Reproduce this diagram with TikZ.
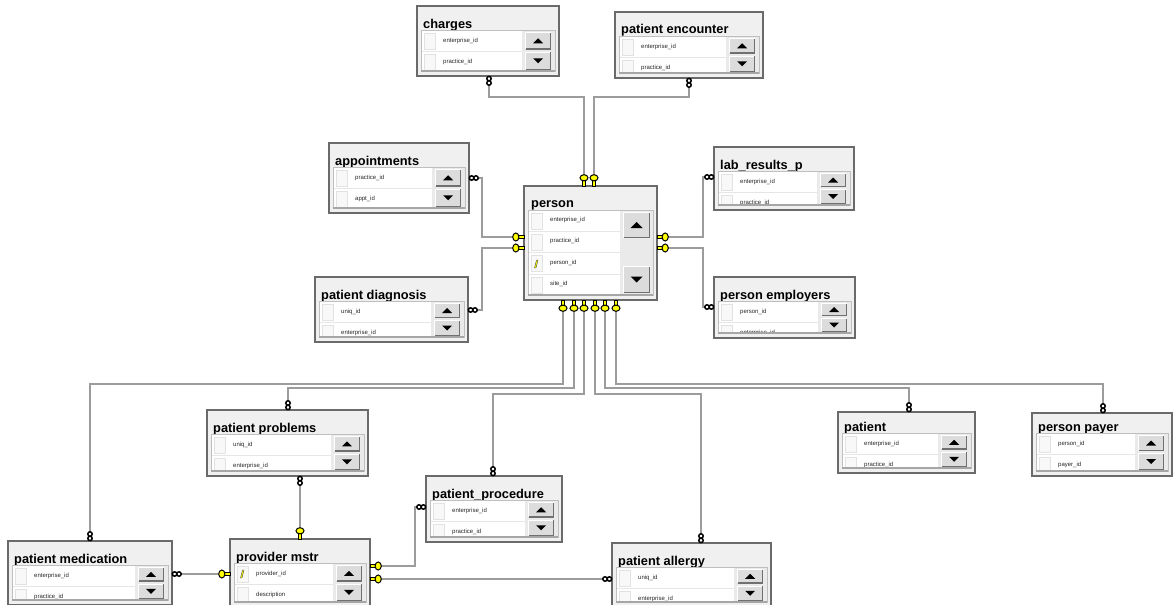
\documentclass[tikz,border=0pt]{standalone}
\usepackage{fontspec}
\setmainfont{Liberation Sans}
\usetikzlibrary{calc}
\definecolor{connc}{HTML}{9C9C9C}
\definecolor{tblborder}{HTML}{6A6A6A}
\definecolor{tblfill}{HTML}{F0F0F0}
\definecolor{rowsepc}{HTML}{E6E6E6}
\definecolor{cellc}{HTML}{E2E2E2}
\definecolor{cellfill}{HTML}{F8F8F8}
\definecolor{btnface}{HTML}{DCDCDC}
\definecolor{btndark}{HTML}{707070}
\definecolor{trackc}{HTML}{EAEAEA}
\definecolor{keyyellow}{HTML}{FFFF00}

\tikzset{
 tablebox/.style={draw=tblborder, fill=tblfill, line width=1.6pt, rectangle, inner sep=0pt, outer sep=0pt, anchor=north west},
 titletext/.style={font=\bfseries\fontsize{12.8}{14}\selectfont, anchor=base west, inner sep=0pt},
 rowtext/.style={font=\fontsize{6}{7}\selectfont, text=black!85, anchor=west, inner sep=0pt},
 conn/.style={draw=connc, line width=2pt},
 keymark/.pic={
   \filldraw[fill=keyyellow, draw=black, line width=1pt] (0,-1.7) -- (5.5,-1.7) -- (5.5,1.7) -- (0,1.7) -- cycle;
   \filldraw[fill=keyyellow, draw=black, line width=1pt] (8.2,0) ellipse (3.1 and 4);
 },
 manymark/.pic={
   \draw[black, fill=white, line width=1.5pt] (2.6,0) circle (2.2) (7.0,0) circle (2.2);
 },
}

\def\rs{0}

\newcommand\scrbtn[6]{%
 \pgfmathsetmacro\sbcx{(#1+#3)/2}\pgfmathsetmacro\sbcy{(#2+#4)/2}%
 \pgfmathsetmacro\sbxa{\sbcx-#6}\pgfmathsetmacro\sbxb{\sbcx+#6}%
 \pgfmathsetmacro\sbyb{\sbcy+(#5)*#6/2}\pgfmathsetmacro\sbya{\sbcy-(#5)*#6/2}%
 \fill[btnface] (#1,#2) rectangle (#3,#4);
 \draw[white,line width=1pt] (#1+0.5,#4-0.5) -- (#1+0.5,#2+0.5) -- (#3-0.5,#2+0.5);
 \draw[btndark,line width=1.3pt] (#1+0.5,#4-0.6) -- (#3-0.6,#4-0.6) -- (#3-0.6,#2+0.5);
 \fill[black] (\sbxa,\sbyb) -- (\sbxb,\sbyb) -- (\sbcx,\sbya) -- cycle;
}

\newcommand\rowkey[2]{%
 \filldraw[fill=keyyellow, draw=black!70, line width=0.4pt] (#1-1.5,#2+4) -- (#1+0.5,#2-4) -- (#1+2,#2-4) -- (#1,#2+4) -- cycle;
}

\newcommand\erdtable[8]{%
 \pgfmathsetmacro\tw{#4-#2}\pgfmathsetmacro\th{#5-#3}%
 \pgfmathsetmacro\iy{#3+\rs}%
 \node[tablebox, minimum width=\tw pt, minimum height=\th pt] (#1) at (#2,#3) {};
 \node[titletext] (#1-title) at (#2+6,\iy+22) {#6};
 \pgfmathsetmacro\yt{\iy+24}\pgfmathsetmacro\yb{#5-5}\pgfmathsetmacro\ym{(\yt+\yb)/2}%
 \pgfmathsetmacro\ua{\yt+2}\pgfmathsetmacro\ub{\ym-1}\pgfmathsetmacro\da{\ym+1}\pgfmathsetmacro\db{\yb-1}%
 \pgfmathsetmacro\sxa{#4-34}\pgfmathsetmacro\sxb{#4-8}%
 \fill[white] (#2+4,\yt) rectangle (#4-37,\yb);
 \fill[trackc] (#4-37,\yt) rectangle (#4-4,\yb);
 \begin{scope}
  \clip (#2+4,\yt) rectangle (#4-37,\yb);
  \draw[rowsepc, line width=1pt] (#2+4,\iy+45.5) -- (#4-37,\iy+45.5) (#2+4,\iy+66.5) -- (#4-37,\iy+66.5);
  \draw[cellc, fill=cellfill, line width=0.8pt] (#2+7,\iy+27) rectangle (#2+18,\iy+43) (#2+7,\iy+48) rectangle (#2+18,\iy+64);
  \node[rowtext] (#1-r1) at (#2+26,\iy+35) {#7};
  \node[rowtext] (#1-r2) at (#2+26,\iy+56) {#8};
 \end{scope}
 \draw[black!25, line width=1pt] (#2+4,\yt) rectangle (#4-4,\yb);
 \draw[black!35, line width=1.2pt] (#2+4,\yb) -- (#4-4,\yb);
 \scrbtn{\sxa}{\ua}{\sxb}{\ub}{1}{5}
 \scrbtn{\sxa}{\da}{\sxb}{\db}{-1}{5}
}

\begin{document}
\begin{tikzpicture}[x=1pt,y=-1pt]
\useasboundingbox (0,0) rectangle (1173,605);
\clip (0,0) rectangle (1173,605);
\fill[white] (0,0) rectangle (1173,605);

% ---------- tables ----------
\erdtable{charges}{417}{6}{559}{76}{charges}{enterprise\_id}{practice\_id}
\erdtable{encounter}{615}{12}{763}{78}{patient encounter}{enterprise\_id}{practice\_id}
\erdtable{appointments}{329}{143}{469}{213}{appointments}{practice\_id}{appt\_id}
\erdtable{lab}{714}{147}{854}{210}{lab\_results\_p}{enterprise\_id}{practice\_id}
\erdtable{diagnosis}{315}{277}{468}{342}{patient diagnosis}{uniq\_id}{enterprise\_id}
\erdtable{employers}{714}{277}{855}{338}{person employers}{person\_id}{enterprise\_id}
\erdtable{problems}{207}{410}{368}{476}{patient problems}{uniq\_id}{enterprise\_id}
\def\rs{-3}
\erdtable{patient}{838}{412}{975}{473}{patient}{enterprise\_id}{practice\_id}
\def\rs{-4}
\erdtable{payer}{1032}{413}{1172}{476}{person payer}{person\_id}{payer\_id}
\def\rs{0}
\erdtable{procedure}{426}{476}{562}{542}{patient\_procedure}{enterprise\_id}{practice\_id}
\erdtable{medication}{8}{541}{172}{605}{patient medication}{enterprise\_id}{practice\_id}
\erdtable{provider}{230}{539}{370}{607}{provider mstr}{provider\_id}{description}
\erdtable{allergy}{612}{543}{771}{607}{patient allergy}{uniq\_id}{enterprise\_id}
\rowkey{242}{574}

% person (4 rows, tall scrollbar)
\node[tablebox, minimum width=133pt, minimum height=114pt] (person) at (524,186) {};
\node[titletext] (person-title) at (531,207.5) {person};
\fill[white] (528,210) rectangle (620,295);
\fill[trackc] (620,210) rectangle (653,295);
\draw[rowsepc, line width=1pt] (528,231) -- (620,231) (528,252) -- (620,252) (528,274) -- (620,274);
\draw[cellc, fill=cellfill, line width=0.8pt] (531,213) rectangle (542,229) (531,234) rectangle (542,250) (531,255) rectangle (542,271) (531,277) rectangle (542,293);
\node[rowtext] (person-r1) at (550,220) {enterprise\_id};
\node[rowtext] (person-r2) at (550,241) {practice\_id};
\node[rowtext] (person-r3) at (550,263) {person\_id};
\node[rowtext] (person-r4) at (550,284) {site\_id};
\rowkey{536}{264}
\draw[black!25, line width=1pt] (528,210) rectangle (653,295);
\draw[black!35, line width=1.2pt] (528,295) -- (653,295);
\scrbtn{623}{212}{650}{238}{1}{6}
\scrbtn{623}{266}{650}{293}{-1}{6}

% ---------- attachment points ----------
\coordinate (pT1) at ($(person.north west)+(60,0)$);
\coordinate (pT2) at ($(person.north west)+(70,0)$);
\coordinate (pL1) at ($(person.north west)+(0,51)$);
\coordinate (pL2) at ($(person.north west)+(0,62)$);
\coordinate (pR1) at ($(person.north east)+(0,51)$);
\coordinate (pR2) at ($(person.north east)+(0,62)$);
\coordinate (pB1) at ($(person.south west)+(39,0)$);
\coordinate (pB2) at ($(person.south west)+(50,0)$);
\coordinate (pB3) at ($(person.south west)+(60,0)$);
\coordinate (pB4) at ($(person.south west)+(71,0)$);
\coordinate (pB5) at ($(person.south west)+(81,0)$);
\coordinate (pB6) at ($(person.south west)+(92,0)$);
\coordinate (chM) at ($(charges.south west)+(72,0)$);
\coordinate (enM) at ($(encounter.south west)+(74,0)$);
\coordinate (apM) at ($(appointments.north east)+(0,35)$);
\coordinate (diM) at ($(diagnosis.north east)+(0,33)$);
\coordinate (laM) at ($(lab.north west)+(0,30)$);
\coordinate (emM) at ($(employers.north west)+(0,30)$);
\coordinate (meM) at ($(medication.north west)+(82,0)$);
\coordinate (prM) at ($(problems.north west)+(81,0)$);
\coordinate (pcM) at ($(procedure.north west)+(67,0)$);
\coordinate (alM) at ($(allergy.north west)+(89,0)$);
\coordinate (paM) at ($(patient.north west)+(71,0)$);
\coordinate (pyM) at ($(payer.north west)+(71,0)$);
\coordinate (prB) at ($(problems.south west)+(93,0)$);
\coordinate (pvT) at ($(provider.north west)+(70,0)$);
\coordinate (meE) at ($(medication.north east)+(0,33)$);
\coordinate (pvL) at ($(provider.north west)+(0,35)$);
\coordinate (pvR1) at ($(provider.north east)+(0,27)$);
\coordinate (pvR2) at ($(provider.north east)+(0,40)$);
\coordinate (pcL) at ($(procedure.north west)+(0,31)$);
\coordinate (alL) at ($(allergy.north west)+(0,36)$);

% ---------- connectors ----------
\draw[conn] (chM) -- ++(0,21) -| (pT1);
\draw[conn] (enM) -- ++(0,19) -| (pT2);
\draw[conn] (apM) -- ++(13,0) |- (pL1);
\draw[conn] (diM) -- ++(14,0) |- (pL2);
\draw[conn] (pR1) -- ++(46,0) |- (laM);
\draw[conn] (pR2) -- ++(46,0) |- (emM);
\draw[conn] (pB1) -- ++(0,84) -| (meM);
\draw[conn] (pB2) -- ++(0,88) -| (prM);
\draw[conn] (pB3) -- ++(0,94) -| (pcM);
\draw[conn] (pB4) -- ++(0,94) -| (alM);
\draw[conn] (pB5) -- ++(0,88) -| (paM);
\draw[conn] (pB6) -- ++(0,84) -| (pyM);
\draw[conn] (prB) -- (pvT);
\draw[conn] (meE) -- (pvL);
\draw[conn] (pvR1) -- ++(45,0) |- (pcL);
\draw[conn] (pvR2) -- (alL);

% ---------- end markers ----------
\foreach \c/\r in {pT1/90, pT2/90, pL1/180, pL2/180, pR1/0, pR2/0,
  pB1/-90, pB2/-90, pB3/-90, pB4/-90, pB5/-90, pB6/-90,
  pvT/90, pvL/180, pvR1/0, pvR2/0}
  \pic[rotate=\r] at (\c) {keymark};
\foreach \c/\r in {chM/-90, enM/-90, apM/0, diM/0, laM/180, emM/180,
  meM/90, prM/90, pcM/90, alM/90, paM/90, pyM/90,
  prB/-90, meE/0, pcL/180, alL/180}
  \pic[rotate=\r] at (\c) {manymark};
\end{tikzpicture}
\end{document}
